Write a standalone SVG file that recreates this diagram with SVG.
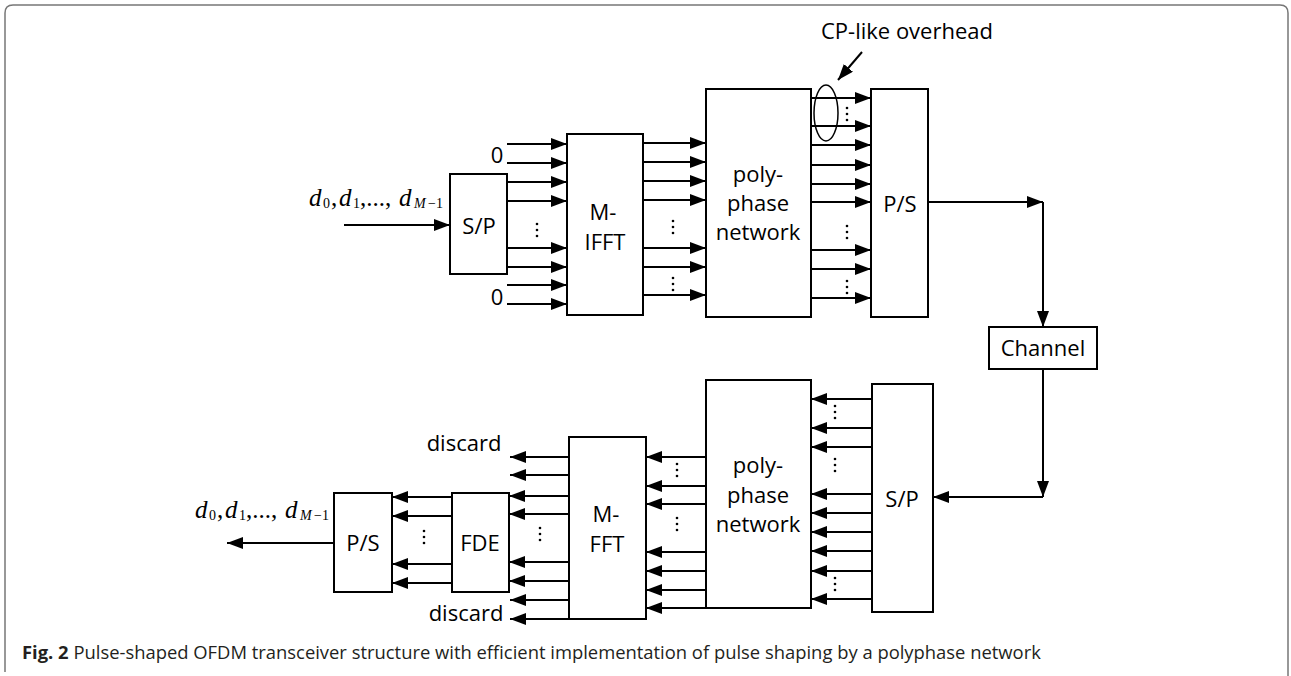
<svg xmlns="http://www.w3.org/2000/svg" width="1291" height="676" viewBox="0 0 1291 676">
<style>
.box{fill:#fff;stroke:#000;stroke-width:2}
.c line,.c path{stroke:#000;stroke-width:2;fill:none}
.a{marker-end:url(#ah)}
.t{font-family:"Open Sans","Noto Sans",sans-serif;font-size:22px;fill:#000;text-anchor:middle}
.m{font-family:"Liberation Serif",serif;font-size:25px;fill:#000}
.m .i{font-style:italic}
.m .s{font-size:14px}
.dot{fill:#000}
.cap{font-family:"Open Sans","Noto Sans",sans-serif;font-size:18.4px;fill:#231f20}
</style>
<defs>
<marker id="ah" markerUnits="userSpaceOnUse" markerWidth="16" markerHeight="12" refX="16" refY="6" orient="auto">
<path d="M0,0 L16,6 L0,12 z" fill="#000"/>
</marker>
<g id="vd"><circle cx="0" cy="0" r="1.3"/><circle cx="0" cy="6" r="1.3"/><circle cx="0" cy="12" r="1.3"/></g>
</defs>
<rect width="1291" height="676" fill="#fff"/>
<path d="M5,672 V13 Q5,5 13,5 H1280 Q1288,5 1288,13 V676" fill="none" stroke="#777" stroke-width="1.5"/>

<g class="c" id="connectors">
<!-- TX input -->
<line class="a" x1="344" y1="225" x2="450" y2="225"/>
<!-- into M-IFFT -->
<line class="a" x1="507" y1="144" x2="567" y2="144"/>
<line class="a" x1="507" y1="163" x2="567" y2="163"/>
<line class="a" x1="507" y1="182" x2="567" y2="182"/>
<line class="a" x1="507" y1="201" x2="567" y2="201"/>
<line class="a" x1="507" y1="248" x2="567" y2="248"/>
<line class="a" x1="507" y1="267" x2="567" y2="267"/>
<line class="a" x1="507" y1="285" x2="567" y2="285"/>
<line class="a" x1="507" y1="304" x2="567" y2="304"/>
<!-- M-IFFT to polyphase -->
<line class="a" x1="643" y1="143" x2="706" y2="143"/>
<line class="a" x1="643" y1="162" x2="706" y2="162"/>
<line class="a" x1="643" y1="181" x2="706" y2="181"/>
<line class="a" x1="643" y1="200" x2="706" y2="200"/>
<line class="a" x1="643" y1="248" x2="706" y2="248"/>
<line class="a" x1="643" y1="267" x2="706" y2="267"/>
<line class="a" x1="643" y1="295" x2="706" y2="295"/>
<!-- polyphase to P/S -->
<line class="a" x1="811" y1="98" x2="871" y2="98"/>
<line class="a" x1="811" y1="126" x2="871" y2="126"/>
<line class="a" x1="811" y1="145" x2="871" y2="145"/>
<line class="a" x1="811" y1="165" x2="871" y2="165"/>
<line class="a" x1="811" y1="184" x2="871" y2="184"/>
<line class="a" x1="811" y1="202" x2="871" y2="202"/>
<line class="a" x1="811" y1="250" x2="871" y2="250"/>
<line class="a" x1="811" y1="269" x2="871" y2="269"/>
<line class="a" x1="811" y1="298" x2="871" y2="298"/>
<!-- P/S to channel to S/P -->
<line class="a" x1="928" y1="202" x2="1043" y2="202"/>
<line class="a" x1="1043" y1="202" x2="1043" y2="327"/>
<line class="a" x1="1043" y1="369" x2="1043" y2="497"/>
<line class="a" x1="1043" y1="497" x2="933" y2="497"/>
<!-- CP-like pointer -->
<line class="a" x1="862" y1="52" x2="838" y2="80"/>
<!-- RX S/P to polyphase -->
<line class="a" x1="872" y1="399" x2="811" y2="399"/>
<line class="a" x1="872" y1="428" x2="811" y2="428"/>
<line class="a" x1="872" y1="447" x2="811" y2="447"/>
<line class="a" x1="872" y1="494" x2="811" y2="494"/>
<line class="a" x1="872" y1="513" x2="811" y2="513"/>
<line class="a" x1="872" y1="532" x2="811" y2="532"/>
<line class="a" x1="872" y1="551" x2="811" y2="551"/>
<line class="a" x1="872" y1="571" x2="811" y2="571"/>
<line class="a" x1="872" y1="599" x2="811" y2="599"/>
<!-- polyphase to M-FFT -->
<line class="a" x1="706" y1="457" x2="646" y2="457"/>
<line class="a" x1="706" y1="486" x2="646" y2="486"/>
<line class="a" x1="706" y1="504" x2="646" y2="504"/>
<line class="a" x1="706" y1="552" x2="646" y2="552"/>
<line class="a" x1="706" y1="571" x2="646" y2="571"/>
<line class="a" x1="706" y1="590" x2="646" y2="590"/>
<line class="a" x1="706" y1="608" x2="646" y2="608"/>
<!-- M-FFT outputs -->
<line class="a" x1="569" y1="457" x2="510" y2="457"/>
<line class="a" x1="569" y1="475" x2="510" y2="475"/>
<line class="a" x1="569" y1="496" x2="509" y2="496"/>
<line class="a" x1="569" y1="514" x2="509" y2="514"/>
<line class="a" x1="569" y1="562" x2="509" y2="562"/>
<line class="a" x1="569" y1="581" x2="509" y2="581"/>
<line class="a" x1="569" y1="600" x2="510" y2="600"/>
<line class="a" x1="569" y1="619" x2="510" y2="619"/>
<!-- FDE to P/S -->
<line class="a" x1="452" y1="497" x2="392" y2="497"/>
<line class="a" x1="452" y1="516" x2="392" y2="516"/>
<line class="a" x1="452" y1="564" x2="392" y2="564"/>
<line class="a" x1="452" y1="583" x2="392" y2="583"/>
<!-- RX output -->
<line class="a" x1="334" y1="543" x2="227" y2="543"/>
</g>

<g id="ellipsis" class="dot">
<use href="#vd" x="537" y="224"/>
<use href="#vd" x="673" y="221"/>
<use href="#vd" x="673" y="278"/>
<use href="#vd" x="847" y="108"/>
<use href="#vd" x="847" y="226"/>
<use href="#vd" x="847" y="281"/>
<use href="#vd" x="835" y="406"/>
<use href="#vd" x="835" y="459"/>
<use href="#vd" x="835" y="578"/>
<use href="#vd" x="677" y="464"/>
<use href="#vd" x="677" y="518"/>
<use href="#vd" x="540" y="528"/>
<use href="#vd" x="424" y="531"/>
</g>

<g id="tx-sp"><rect class="box" x="450" y="174" width="57" height="100"/><text class="t" x="479" y="234">S/P</text></g>
<g id="tx-ifft"><rect class="box" x="567" y="134" width="76" height="181"/><text class="t" x="603" y="220">M-</text><text class="t" x="605" y="250">IFFT</text></g>
<g id="tx-poly"><rect class="box" x="706" y="89" width="105" height="228"/><text class="t" x="758" y="182">poly-</text><text class="t" x="758" y="211">phase</text><text class="t" x="758" y="240">network</text></g>
<g id="tx-ps"><rect class="box" x="871" y="89" width="57" height="228"/><text class="t" x="900" y="212">P/S</text></g>
<g id="channel"><rect class="box" x="989" y="327" width="108" height="42"/><text class="t" x="1043" y="356">Channel</text></g>
<g id="rx-sp"><rect class="box" x="872" y="384" width="61" height="228"/><text class="t" x="902" y="507">S/P</text></g>
<g id="rx-poly"><rect class="box" x="706" y="380" width="105" height="228"/><text class="t" x="758" y="473">poly-</text><text class="t" x="758" y="503">phase</text><text class="t" x="758" y="532">network</text></g>
<g id="rx-fft"><rect class="box" x="569" y="437" width="77" height="182"/><text class="t" x="606" y="522">M-</text><text class="t" x="607" y="552">FFT</text></g>
<g id="rx-fde"><rect class="box" x="452" y="493" width="57" height="99"/><text class="t" x="480" y="551">FDE</text></g>
<g id="rx-ps"><rect class="box" x="334" y="493" width="58" height="99"/><text class="t" x="363" y="551">P/S</text></g>

<g id="cp-overhead">
<ellipse cx="826" cy="113" rx="12" ry="28" fill="none" stroke="#000" stroke-width="1.5"/>
<text class="t" x="907" y="39">CP-like overhead</text>
</g>

<g id="labels">
<text class="t" x="497" y="163">0</text>
<text class="t" x="497" y="305">0</text>
<text class="t" x="464" y="451">discard</text>
<text class="t" x="466" y="621">discard</text>
<text class="m" id="tx-symbols" y="206"><tspan class="i" x="309">d</tspan><tspan class="s" x="323" y="208">0</tspan><tspan x="331" y="206">,</tspan><tspan class="i" x="339">d</tspan><tspan class="s" x="353" y="208">1</tspan><tspan x="360" y="206">,...,</tspan><tspan class="i" x="399">d</tspan><tspan class="s i" x="414" y="208">M</tspan><tspan class="s" x="428">−1</tspan></text>
<text class="m" id="rx-symbols" y="518"><tspan class="i" x="195">d</tspan><tspan class="s" x="209" y="520">0</tspan><tspan x="217" y="518">,</tspan><tspan class="i" x="225">d</tspan><tspan class="s" x="239" y="520">1</tspan><tspan x="246" y="518">,...,</tspan><tspan class="i" x="285">d</tspan><tspan class="s i" x="300" y="520">M</tspan><tspan class="s" x="314">−1</tspan></text>
</g>

<text class="cap" x="22" y="659"><tspan font-weight="bold">Fig. 2</tspan> Pulse-shaped OFDM transceiver structure with efficient implementation of pulse shaping by a polyphase network</text>
</svg>
